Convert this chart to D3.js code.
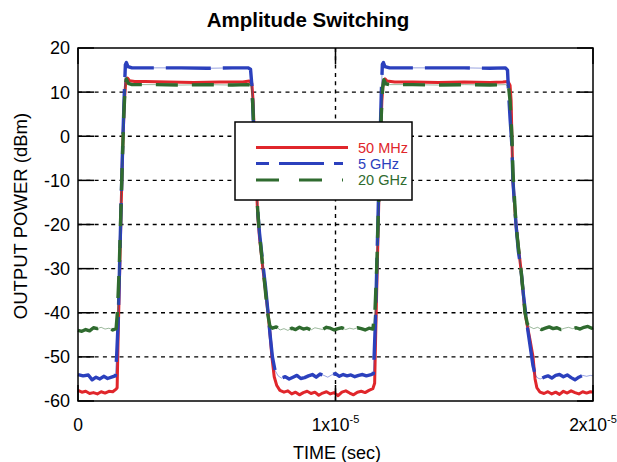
<!DOCTYPE html>
<html><head><meta charset="utf-8">
<script src="https://cdn.jsdelivr.net/npm/d3@7"></script>
<style>body{margin:0;background:#fff}text{font-family:"Liberation Sans",Arial,sans-serif}</style>
</head><body><svg id="c" width="617" height="462"></svg>
<script>
// time in microseconds, power in dBm
const redT = [0,0.15,0.3,0.45,0.6,0.75,0.9,1.05,1.2,1.35,1.48,1.52,1.56,1.62,1.68,1.74,1.80,1.86,1.92,2.0,2.2,2.6,3.5,4.5,5.5,6.4,6.65,6.75,6.80,6.86,6.92,6.98,7.05,7.18,7.28,7.38,7.46,7.53,7.62,7.72,7.84,8.0,8.15,8.3,8.45,8.6,8.75,8.9,9.05,9.2,9.35,9.5,9.65,9.8,9.95,10.1,10.25,10.4,10.55,10.7,10.85,11.0,11.15,11.3,11.45,11.52,11.56,11.62,11.68,11.74,11.80,11.86,11.92,12.0,12.3,13.0,14,15,16,16.5,16.7,16.78,16.82,16.85,16.89,16.96,17.01,17.10,17.20,17.28,17.36,17.45,17.55,17.67,17.75,17.82,17.94,18.1,18.25,18.4,18.55,18.7,18.85,19.0,19.15,19.3,19.45,19.6,19.75,19.9,20.0];
const redV = [-57.6,-58.0,-57.8,-58.3,-58.1,-58.4,-57.9,-58.2,-57.8,-57.9,-57.3,-57,-45,-30,-15,-2,8,12.8,13.2,12.6,12.4,12.4,12.3,12.2,12.3,12.3,12.5,12.0,8,-2,-10,-18,-23,-30,-35,-40,-45,-50,-54.5,-56.5,-57.6,-58.0,-57.7,-58.4,-58.0,-58.6,-58.1,-57.8,-58.3,-58.0,-58.7,-58.2,-57.9,-58.4,-58.1,-58.8,-58.0,-57.7,-58.2,-58.6,-58.0,-57.8,-58.1,-57.6,-57.2,-56,-45,-30,-15,-2,8,12.6,13.0,12.5,12.3,12.3,12.2,12.3,12.2,12.3,12.4,11.5,8,0,-10,-16,-20,-25,-30,-35,-40,-43,-46,-50,-55,-57,-58.0,-58.3,-57.9,-58.4,-58.0,-58.5,-57.8,-58.2,-57.7,-58.1,-58.4,-57.9,-58.2,-57.9,-58.0];

const blueT = [0,0.2,0.4,0.55,0.7,0.85,1.0,1.15,1.3,1.45,1.50,1.56,1.62,1.68,1.74,1.80,1.84,1.88,1.94,2.1,3,4,5,6,6.6,6.7,6.76,6.80,6.86,6.92,6.98,7.05,7.18,7.28,7.38,7.46,7.55,7.65,7.77,7.9,8.05,8.2,8.35,8.5,8.65,8.8,8.95,9.1,9.25,9.4,9.55,9.7,9.85,10.0,10.15,10.3,10.45,10.6,10.75,10.9,11.05,11.2,11.35,11.47,11.50,11.55,11.61,11.67,11.73,11.78,11.82,11.86,11.92,12.1,13,14,15,16,16.6,16.68,16.72,16.78,16.85,16.89,16.96,17.01,17.10,17.20,17.30,17.38,17.47,17.57,17.67,17.75,17.85,17.95,18.1,18.25,18.4,18.55,18.7,18.85,19.0,19.15,19.3,19.45,19.6,19.75,19.9,20.0];
const blueV = [-54.0,-54.3,-54.1,-55.2,-54.6,-55.0,-54.4,-54.9,-54.6,-54.3,-50,-42,-28,-14,-1,10,16.2,16.7,15.8,15.5,15.5,15.5,15.4,15.5,15.5,15.2,11,5,-4,-10,-17,-22,-29,-34,-40,-45,-50,-53,-54.3,-54.8,-54.5,-55.0,-54.6,-54.2,-54.9,-54.7,-54.3,-54.0,-54.6,-53.9,-54.2,-54.6,-54.1,-53.8,-54.4,-54.0,-54.3,-54.1,-54.5,-54.2,-54.0,-54.3,-54.1,-53.8,-50,-42,-28,-14,-1,10,16.3,16.7,15.8,15.5,15.5,15.5,15.5,15.4,15.5,15.0,10,4,-2,-10,-16,-20,-26,-30,-36,-40,-44,-48,-52,-54,-54.8,-55.0,-54.6,-54.3,-54.8,-54.2,-54.0,-54.5,-54.1,-54.7,-55.2,-54.6,-54.2,-54.4,-54.2,-54.3];

const greenT = [0,0.15,0.3,0.45,0.6,0.75,0.9,1.05,1.2,1.35,1.48,1.53,1.60,1.66,1.72,1.78,1.83,1.88,1.95,2.1,3,4,5,6,6.6,6.72,6.78,6.84,6.90,6.96,7.03,7.15,7.26,7.36,7.45,7.55,7.7,7.85,8.0,8.15,8.3,8.45,8.6,8.75,8.9,9.05,9.2,9.35,9.5,9.65,9.8,9.95,10.1,10.25,10.4,10.55,10.7,10.85,11.0,11.15,11.3,11.45,11.53,11.60,11.66,11.72,11.78,11.83,11.88,11.95,12.1,13,14,15,16,16.6,16.72,16.78,16.85,16.89,16.96,17.01,17.10,17.20,17.28,17.36,17.45,17.55,17.7,17.85,18.0,18.15,18.3,18.45,18.6,18.75,18.9,19.05,19.2,19.35,19.5,19.65,19.8,19.95,20.0];
const greenV = [-44.0,-44.2,-43.8,-44.1,-43.4,-43.6,-43.3,-43.7,-43.5,-43.9,-43.6,-40,-30,-18,-6,5,11,13.0,12.0,11.7,11.7,11.6,11.7,11.6,11.7,11.5,8,0,-8,-15,-21,-28,-34,-40,-43,-43.5,-43.2,-43.9,-43.6,-44.0,-43.5,-43.8,-43.3,-43.7,-43.5,-43.9,-43.4,-43.6,-43.8,-43.3,-43.5,-43.9,-43.6,-43.4,-43.8,-43.5,-43.7,-43.4,-43.6,-43.9,-43.5,-43.7,-40,-30,-18,-6,5,11,12.8,11.9,11.7,11.7,11.6,11.7,11.6,11.7,11.3,8,0,-8,-15,-20,-25,-30,-35,-40,-42.5,-43.2,-43.6,-43.3,-43.8,-43.5,-43.2,-43.6,-43.4,-43.8,-43.5,-43.3,-43.6,-43.4,-43.7,-43.3,-43.1,-43.5,-43.4];

const seriesNames = ["50 MHz","5 GHz","20 GHz"];
const seriesColors = ["#e0262b","#2b40bd","#2f6b2f"];
const yTicks = [20,10,0,-10,-20,-30,-40,-50,-60];
const xTicks = [0,10,20];
const xTickBase = ["0","1x10","2x10"];
const xTickExp = ["","-5","-5"];

const svg = d3.select("#c");
const L=78,R=593,T=48,B=401;
const x = d3.scaleLinear().domain([0,20]).range([L,R]);
const y = d3.scaleLinear().domain([-60,20]).range([B,T]);

// title
svg.append("text").attr("x",308).attr("y",27).attr("text-anchor","middle")
  .attr("font-size",20.5).attr("font-weight","bold").text("Amplitude Switching");

// grid (dashed)
const g = svg.append("g");
g.selectAll("line.hg").data(yTicks.filter(v=>v>-60&&v<20)).join("line")
  .attr("x1",L).attr("x2",R).attr("y1",d=>y(d)).attr("y2",d=>y(d))
  .attr("stroke","#000").attr("stroke-width",1.4).attr("stroke-dasharray","4,4.3");
g.selectAll("line.vg").data(xTicks.filter(v=>v>0&&v<20)).join("line")
  .attr("y1",T).attr("y2",B).attr("x1",d=>x(d)).attr("x2",d=>x(d))
  .attr("stroke","#000").attr("stroke-width",1.4).attr("stroke-dasharray","4,4.3");

// series
const series = [[redT,redV],[blueT,blueV],[greenT,greenV]];
const line = d3.line().x(d=>x(d[0])).y(d=>y(d[1]));
const dashes = [null,"45,12","22,14"];
series.forEach((s,i)=>{
  const pts = s[0].map((t,k)=>[t,s[1][k]]);
  if(dashes[i]){
    svg.append("path").attr("d",line(pts)).attr("fill","none")
      .attr("stroke",seriesColors[i]).attr("stroke-width",0.8).attr("stroke-opacity",0.6);
    svg.append("path").attr("d",line(pts)).attr("fill","none")
      .attr("stroke",seriesColors[i]).attr("stroke-width",3.4).attr("stroke-dasharray",dashes[i])
      .attr("stroke-linejoin","round");
  } else {
    svg.append("path").attr("d",line(pts)).attr("fill","none")
      .attr("stroke",seriesColors[i]).attr("stroke-width",3).attr("stroke-linejoin","round");
  }
});

// ticks (inward, solid)
const tk = svg.append("g").attr("stroke","#000").attr("stroke-width",1.5);
yTicks.forEach(v=>{
  tk.append("line").attr("x1",L).attr("x2",L+16).attr("y1",y(v)).attr("y2",y(v));
  tk.append("line").attr("x1",R-16).attr("x2",R).attr("y1",y(v)).attr("y2",y(v));
});
xTicks.forEach(v=>{
  tk.append("line").attr("x1",x(v)).attr("x2",x(v)).attr("y1",T).attr("y2",T+16);
  tk.append("line").attr("x1",x(v)).attr("x2",x(v)).attr("y1",B-16).attr("y2",B);
});
// frame
svg.append("rect").attr("x",L).attr("y",T).attr("width",R-L).attr("height",B-T)
  .attr("fill","none").attr("stroke","#000").attr("stroke-width",1.5);

// y tick labels
svg.selectAll("text.yl").data(yTicks).join("text").attr("class","yl")
  .attr("x",70).attr("y",d=>y(d)).attr("dy","0.36em").attr("text-anchor","end")
  .attr("font-size",18).text(d=>d);
// x tick labels
xTicks.forEach((v,i)=>{
  const t = svg.append("text").attr("x",x(v)).attr("y",431).attr("text-anchor","middle").attr("font-size",17.5);
  t.append("tspan").text(xTickBase[i]);
  if(xTickExp[i]) t.append("tspan").attr("font-size",11).attr("dy",-8).text(xTickExp[i]);
});
svg.append("text").attr("x",337).attr("y",459).attr("text-anchor","middle").attr("font-size",18).text("TIME (sec)");
svg.append("text").attr("transform","translate(27,216) rotate(-90)").attr("text-anchor","middle")
  .attr("font-size",18.5).text("OUTPUT POWER (dBm)");

// legend
const lg = svg.append("g");
lg.append("rect").attr("x",235).attr("y",122).attr("width",177).attr("height",78)
  .attr("fill","#fff").attr("stroke","#000").attr("stroke-width",1.5);
const ly = [147.5,163.5,180];
const lx2 = [348,343,343];
const ldash = [null,"45,10","23,20"];
const loff = [0,32,0];
seriesNames.forEach((n,i)=>{
  const ln = lg.append("line").attr("x1",256).attr("x2",lx2[i]).attr("y1",ly[i]).attr("y2",ly[i])
    .attr("stroke",seriesColors[i]).attr("stroke-width",3.2);
  if(ldash[i]) ln.attr("stroke-dasharray",ldash[i]).attr("stroke-dashoffset",loff[i]);
  lg.append("text").attr("x",358).attr("y",ly[i]+5).attr("font-size",14.5)
    .attr("fill",seriesColors[i]).text(n);
});
</script></body></html>
